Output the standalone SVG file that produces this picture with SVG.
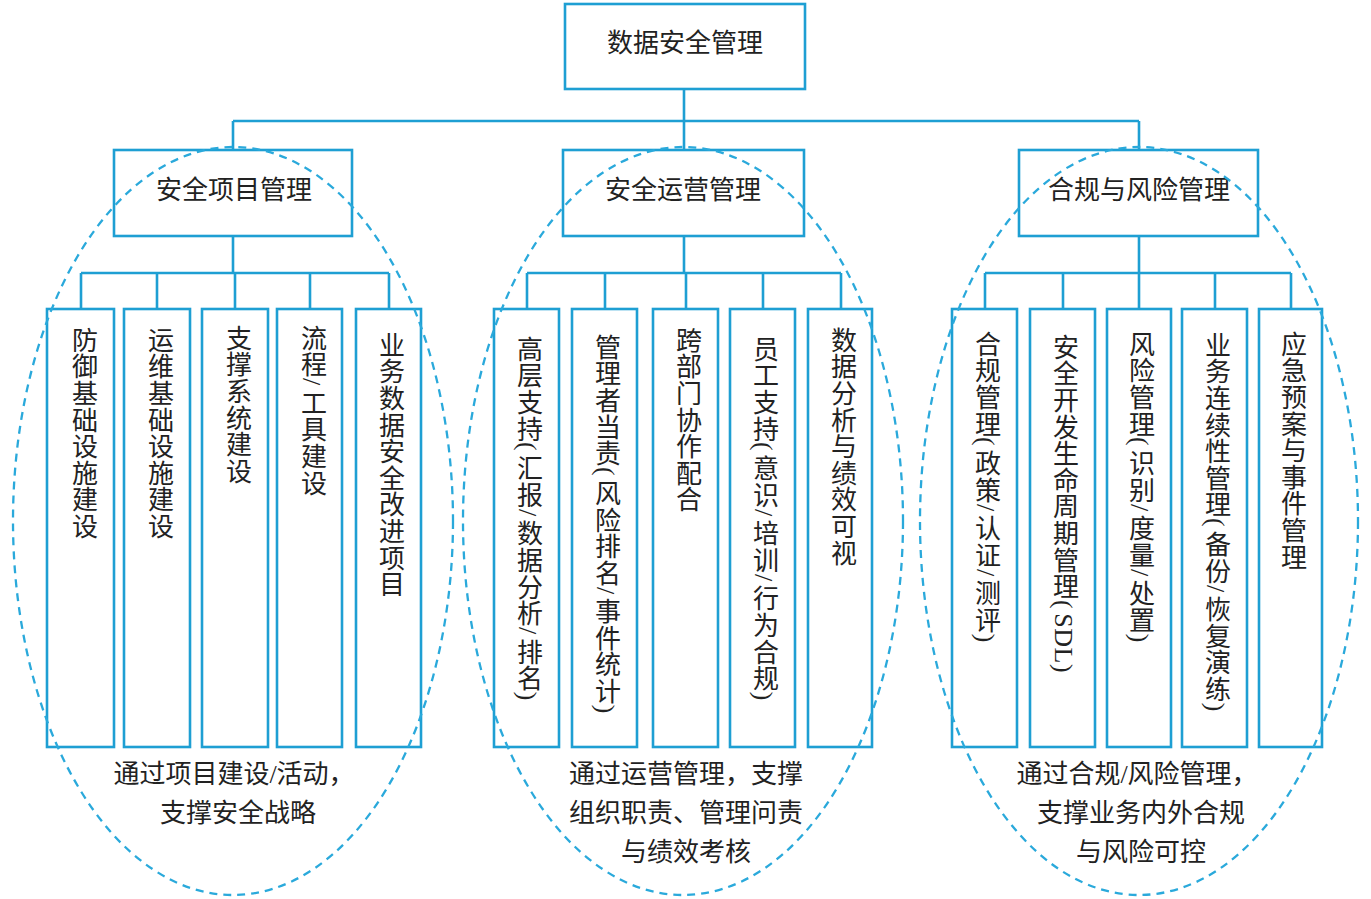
<svg xmlns="http://www.w3.org/2000/svg" width="1371" height="899" viewBox="0 0 1371 899">
<style>
.box{fill:#fff;stroke:#1e9fd3;stroke-width:2.6}
.ln{fill:none;stroke:#1e9fd3;stroke-width:2.6}
.ell{fill:none;stroke:#2aa9db;stroke-width:2.3;stroke-dasharray:8 6}
.t{font-family:"Liberation Serif","Noto Sans CJK SC",serif;font-size:26px;fill:#222;text-anchor:middle}
.v{font-family:"Liberation Serif","Noto Sans CJK SC",serif;font-size:26px;fill:#222;writing-mode:vertical-rl;letter-spacing:0.6px}
.p{letter-spacing:4.5px}
</style>
<rect width="1371" height="899" fill="#fff"/>
<g id="connectors">
<path class="ln" d="M684 89V121M233 121H1139M233 121V150M684 121V150M1139 121V150"/>
<path class="ln" d="M233 236V273M81 273H389M81 273V309M157 273V309M235 273V309M310 273V309M389 273V309"/>
<path class="ln" d="M684 236V273M527 273H841M527 273V309M605 273V309M686 273V309M763 273V309M841 273V309"/>
<path class="ln" d="M1139 236V273M985 273H1291M985 273V309M1063 273V309M1139 273V309M1215 273V309M1291 273V309"/>
</g>
<g id="root">
<rect class="box" x="565" y="4" width="240" height="85"/>
<text class="t" x="685" y="52">数据安全管理</text>
</g>
<g id="g1">
<rect class="box" x="114" y="150" width="238" height="86"/>
<text class="t" x="234" y="199">安全项目管理</text>
</g>
<g id="g2">
<rect class="box" x="563" y="150" width="241" height="86"/>
<text class="t" x="683" y="199">安全运营管理</text>
</g>
<g id="g3">
<rect class="box" x="1019" y="150" width="239" height="86"/>
<text class="t" x="1139" y="199">合规与风险管理</text>
</g>
<g id="a1"><rect class="box" x="47" y="309" width="67" height="438"/><text class="v" x="82" y="327">防御基础设施建设</text></g>
<g id="a2"><rect class="box" x="124" y="309" width="66" height="438"/><text class="v" x="158" y="327">运维基础设施建设</text></g>
<g id="a3"><rect class="box" x="202" y="309" width="66" height="438"/><text class="v" x="236" y="325">支撑系统建设</text></g>
<g id="a4"><rect class="box" x="277" y="309" width="65" height="438"/><text class="v" x="311" y="325">流程<tspan class="p">/</tspan>工具建设</text></g>
<g id="a5"><rect class="box" x="356" y="309" width="65" height="438"/><text class="v" x="389" y="332">业务数据安全改进项目</text></g>
<g id="b1"><rect class="box" x="494" y="309" width="65" height="438"/><text class="v" x="527" y="336">高层支持<tspan class="p">(</tspan>汇报<tspan class="p">/</tspan>数据分析<tspan class="p">/</tspan>排名)</text></g>
<g id="b2"><rect class="box" x="572" y="309" width="65" height="438"/><text class="v" x="605" y="334">管理者当责<tspan class="p">(</tspan>风险排名<tspan class="p">/</tspan>事件统计)</text></g>
<g id="b3"><rect class="box" x="653" y="309" width="65" height="438"/><text class="v" x="686" y="327">跨部门协作配合</text></g>
<g id="b4"><rect class="box" x="730" y="309" width="65" height="438"/><text class="v" x="763" y="336">员工支持<tspan class="p">(</tspan>意识<tspan class="p">/</tspan>培训<tspan class="p">/</tspan>行为合规)</text></g>
<g id="b5"><rect class="box" x="808" y="309" width="64" height="438"/><text class="v" x="841" y="327">数据分析与绩效可视</text></g>
<g id="c1"><rect class="box" x="952" y="309" width="65" height="438"/><text class="v" x="985" y="331">合规管理<tspan class="p">(</tspan>政策<tspan class="p">/</tspan>认证<tspan class="p">/</tspan>测评)</text></g>
<g id="c2"><rect class="box" x="1030" y="309" width="65" height="438"/><text class="v" x="1063" y="334">安全开发生命周期管理<tspan class="p">(</tspan>SDL)</text></g>
<g id="c3"><rect class="box" x="1107" y="309" width="64" height="438"/><text class="v" x="1139" y="331">风险管理<tspan class="p">(</tspan>识别<tspan class="p">/</tspan>度量<tspan class="p">/</tspan>处置)</text></g>
<g id="c4"><rect class="box" x="1182" y="309" width="65" height="438"/><text class="v" x="1215" y="332">业务连续性管理<tspan class="p">(</tspan>备份<tspan class="p">/</tspan>恢复演练)</text></g>
<g id="c5"><rect class="box" x="1259" y="309" width="63" height="438"/><text class="v" x="1291" y="331">应急预案与事件管理</text></g>
<g id="groups">
<ellipse class="ell" cx="233" cy="521" rx="220" ry="374"/>
<ellipse class="ell" cx="683" cy="521" rx="220" ry="374"/>
<ellipse class="ell" cx="1139" cy="521" rx="219" ry="374"/>
</g>
<g id="notes">
<text class="t" x="234" y="783">通过项目建设/活动，</text>
<text class="t" x="238" y="822">支撑安全战略</text>
<text class="t" x="686" y="783">通过运营管理，支撑</text>
<text class="t" x="686" y="822">组织职责、管理问责</text>
<text class="t" x="686" y="861">与绩效考核</text>
<text class="t" x="1137" y="783">通过合规/风险管理，</text>
<text class="t" x="1141" y="822">支撑业务内外合规</text>
<text class="t" x="1141" y="861">与风险可控</text>
</g>
</svg>
